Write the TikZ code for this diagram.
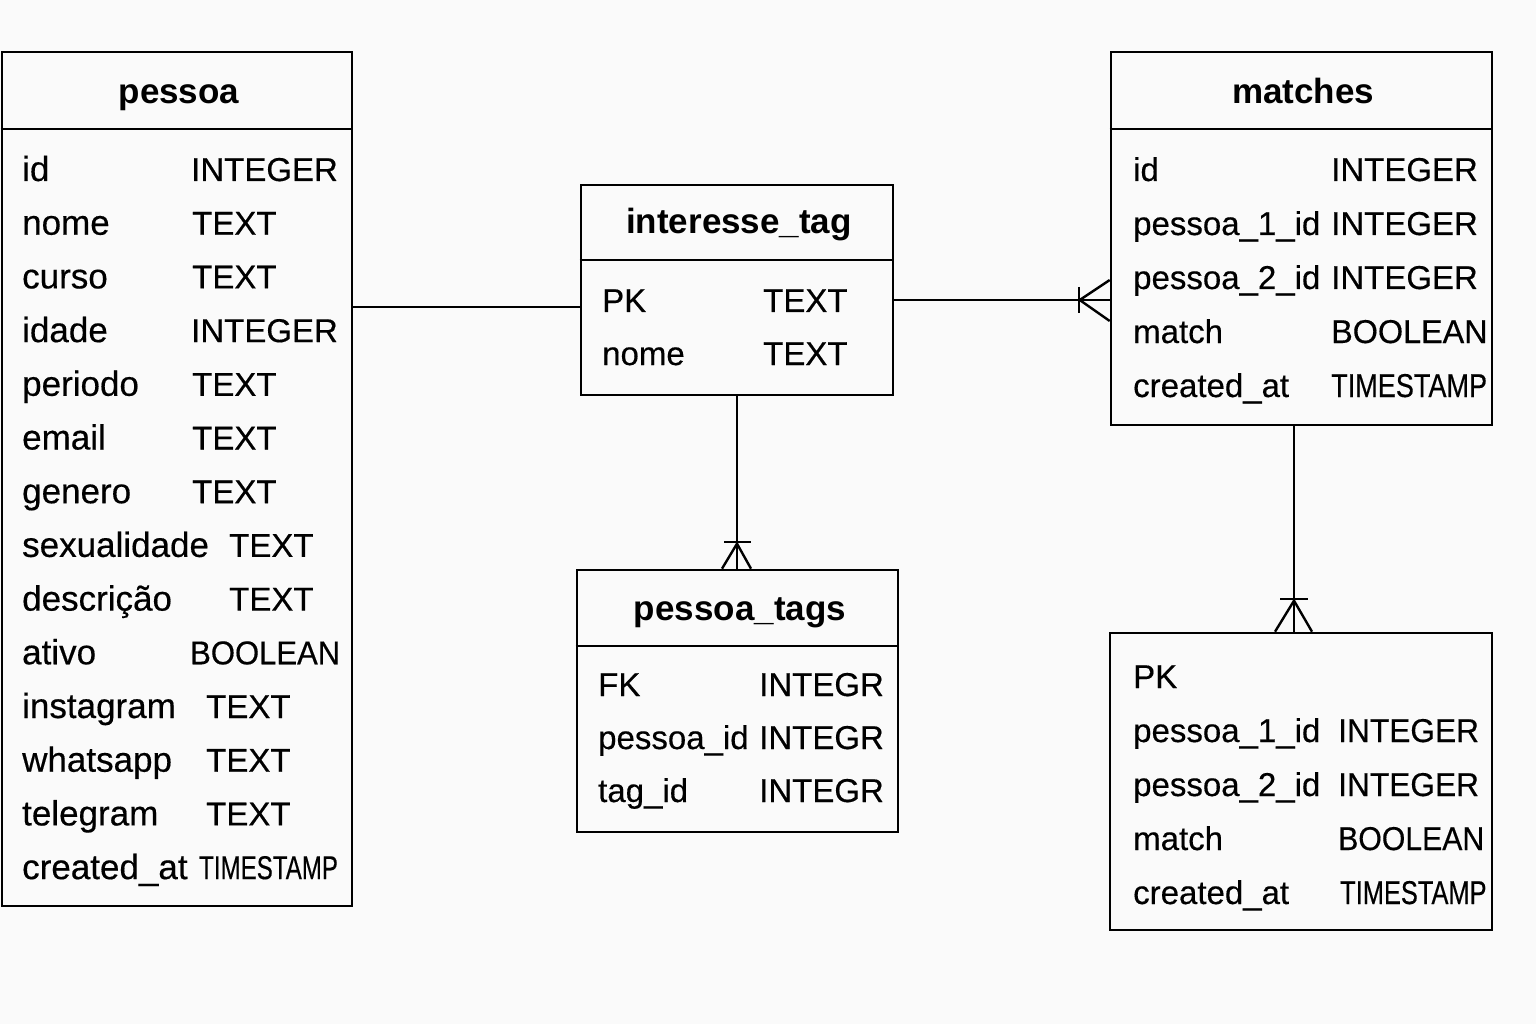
\documentclass[tikz,border=0pt]{standalone}
\usepackage{fontspec}
\usepackage{graphicx}
\setmainfont{Liberation Sans}
\newfontfamily\fieldfam{Liberation Sans}[FakeBold=0.4]
\usetikzlibrary{calc}
\definecolor{paper}{RGB}{250,250,250}
\newcommand{\fieldfont}{\fieldfam\fontsize{33pt}{40pt}\selectfont}
\newcommand{\bigfieldfont}{\fieldfam\fontsize{35pt}{40pt}\selectfont}
\newcommand{\titlefont}{\fontsize{35pt}{40pt}\selectfont\bfseries}
\newcommand{\tstamp}[1]{\scalebox{#1}[1]{TIMESTAMP}}
\newcommand{\bool}[1]{\scalebox{#1}[1]{BOOLEAN}}
\newcommand{\intg}[1]{\scalebox{#1}[1]{INTEGER}}
\begin{document}
\begin{tikzpicture}[x=1pt,y=-1pt,
  tbl/.style={draw, line width=2.6pt, rectangle, inner sep=0pt},
  fld/.style={anchor=base west, inner sep=0pt, font=\fieldfont},
  bigfld/.style={anchor=base west, inner sep=0pt, font=\bigfieldfont},
  ttl/.style={anchor=base, inner sep=0pt, font=\titlefont},
  rel/.style={line width=2.4pt},
  divider/.style={line width=2.6pt}]
\fill[paper] (0,0) rectangle (1536,1024);
\useasboundingbox (0,0) rectangle (1536,1024);

% ---------- tables ----------
\node[tbl, minimum width=350pt, minimum height=854pt] (pessoa) at (177,479) {};
\node[tbl, minimum width=312pt, minimum height=210pt] (itag) at (737,290) {};
\node[tbl, minimum width=381pt, minimum height=373pt] (matches) at (1301.5,238.5) {};
\node[tbl, minimum width=321pt, minimum height=262pt] (ptags) at (737.5,701) {};
\node[tbl, minimum width=382pt, minimum height=297pt] (mdet) at (1301,781.5) {};

% header dividers
\draw[divider] (pessoa.west |- 0,129) -- (pessoa.east |- 0,129);
\draw[divider] (itag.west |- 0,260) -- (itag.east |- 0,260);
\draw[divider] (matches.west |- 0,129) -- (matches.east |- 0,129);
\draw[divider] (ptags.west |- 0,646) -- (ptags.east |- 0,646);

% titles
\node[ttl] (tpessoa) at (179,104) {pessoa};
\node[ttl] (titag) at (739,234) {interesse\_tag};
\node[ttl] (tmatches) at (1303,104) {matches};
\node[ttl] (tptags) at (740,620) {pessoa\_tags};

% pessoa fields
\foreach \n/\t/\tx [count=\i from 0] in {
  id/INTEGER/191, nome/TEXT/192, curso/TEXT/192, idade/INTEGER/191,
  periodo/TEXT/192, email/TEXT/192, genero/TEXT/192,
  sexualidade/TEXT/229, descrição/TEXT/229, ativo/\bool{0.94}/190,
  instagram/TEXT/206, whatsapp/TEXT/206, telegram/TEXT/206,
  created\_at/\tstamp{0.73}/199} {
  \node[bigfld] (pn\i) at (22,{181+53.7*\i}) {\n};
  \node[fld] (pt\i) at (\tx,{181+53.7*\i}) {\t};
}

% interesse_tag fields
\node[fld] (in0) at (602,312) {PK};
\node[fld] (it0) at (763,312) {TEXT};
\node[fld] (in1) at (602,365) {nome};
\node[fld] (it1) at (763,365) {TEXT};

% matches fields
\foreach \n/\t [count=\i from 0] in {
  id/INTEGER, pessoa\_1\_id/INTEGER, pessoa\_2\_id/INTEGER,
  match/\bool{0.98}, created\_at/\tstamp{0.82}} {
  \node[fld] (mn\i) at (1133,{181+54*\i}) {\n};
  \node[fld] (mt\i) at (1331,{181+54*\i}) {\t};
}

% pessoa_tags fields
\foreach \n [count=\i from 0] in {FK, pessoa\_id, tag\_id} {
  \node[fld] (sn\i) at (598,{696+53*\i}) {\n};
  \node[fld] (st\i) at (759,{696+53*\i}) {INTEGR};
}

% lower right table fields
\node[fld] (dn0) at (1133,688) {PK};
\foreach \n/\t/\tx [count=\i from 1] in {
  pessoa\_1\_id/\intg{0.96}/1338, pessoa\_2\_id/\intg{0.96}/1338,
  match/\bool{0.915}/1338, created\_at/\tstamp{0.77}/1340} {
  \node[fld] (dn\i) at (1133,{688+54*\i}) {\n};
  \node[fld] (dt\i) at (\tx,{688+54*\i}) {\t};
}

% ---------- relationships ----------
% pessoa -- interesse_tag
\draw[rel] (pessoa.east |- 0,307) -- (itag.west |- 0,307);

% interesse_tag -- matches (many)
\coordinate (mA) at (matches.west |- 0,300);
\draw[rel] (itag.east |- mA) -- (mA);
\draw[rel] ($(mA)+(-31,-13)$) -- ($(mA)+(-31,13)$);
\draw[rel] ($(mA)+(-30,0)$) -- ($(mA)+(0,-20)$);
\draw[rel] ($(mA)+(-30,0)$) -- ($(mA)+(0,21)$);

% interesse_tag -- pessoa_tags (many)
\coordinate (tA) at (itag.south |- ptags.north);
\draw[rel] (itag.south) -- (tA);
\draw[rel] ($(tA)+(-13,-27)$) -- ($(tA)+(14,-27)$);
\draw[rel] ($(tA)+(0,-25)$) -- ($(tA)+(-15,0)$);
\draw[rel] ($(tA)+(0,-25)$) -- ($(tA)+(14,0)$);

% matches -- lower right table (many)
\coordinate (dA) at (mdet.north -| 1294,0);
\draw[rel] (matches.south -| dA) -- (dA);
\draw[rel] ($(dA)+(-14,-33)$) -- ($(dA)+(14,-33)$);
\draw[rel] ($(dA)+(0,-31)$) -- ($(dA)+(-19,0)$);
\draw[rel] ($(dA)+(0,-31)$) -- ($(dA)+(18,0)$);
\end{tikzpicture}
\end{document}
